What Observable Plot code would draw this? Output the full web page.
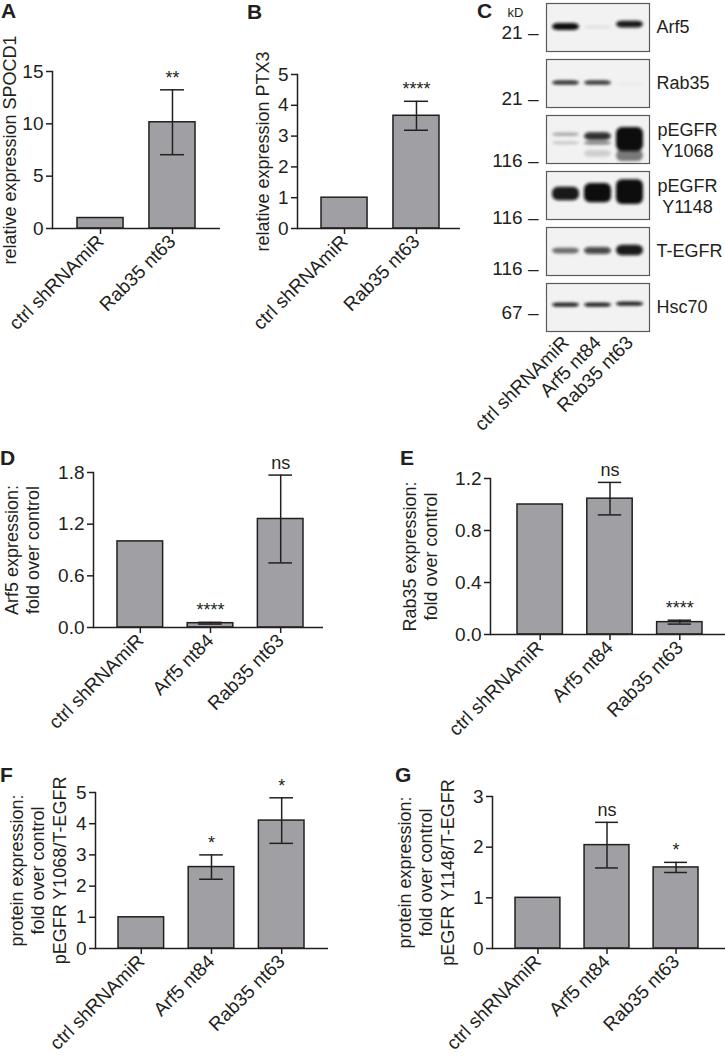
<!DOCTYPE html>
<html>
<head>
<meta charset="utf-8">
<script src="https://cdn.jsdelivr.net/npm/d3@7"></script>
<script src="https://cdn.jsdelivr.net/npm/@observablehq/plot@0.6"></script>
<style>
  body { margin: 0; background: #fff; }
  #fig { position: relative; width: 725px; height: 1056px; overflow: hidden;
         font-family: "Liberation Sans", Arial, Helvetica, sans-serif; color: #231f20; }
  .panel { position: absolute; }
  .letter { position: absolute; font-weight: bold; font-size: 21px; line-height: 1; }
</style>
</head>
<body>
<div id="fig"></div>
<script>
// ---------------- data ----------------
const catsA = ["ctrl shRNAmiR", "Rab35 nt63"];
const spocd1Mean = [1, 10.15];
const spocd1Sem = [0, 3.1];
const sigA = ["", "**"];

const ptx3Mean = [1, 3.66];
const ptx3Sem = [0, 0.47];
const sigB = ["", "****"];

const cats3 = ["ctrl shRNAmiR", "Arf5 nt84", "Rab35 nt63"];
const arf5Mean = [1, 0.05, 1.26];
const arf5Sem = [0, 0.01, 0.51];
const sigD = ["", "****", "ns"];

const rab35Mean = [1, 1.045, 0.095];
const rab35Sem = [0, 0.125, 0.015];
const sigE = ["", "ns", "****"];

const y1068Mean = [1, 2.61, 4.1];
const y1068Sem = [0, 0.39, 0.73];
const sigF = ["", "*", "*"];

const y1148Mean = [1, 2.04, 1.6];
const y1148Sem = [0, 0.45, 0.1];
const sigG = ["", "ns", "*"];

// western blot (panel C)
const lanes = ["ctrl shRNAmiR", "Arf5 nt84", "Rab35 nt63"];
const blots = ["Arf5", "Rab35", "pEGFR Y1068", "pEGFR Y1148", "T-EGFR", "Hsc70"];
const blotLabels = ["Arf5", "Rab35", "pEGFR\nY1068", "pEGFR\nY1148", "T-EGFR", "Hsc70"];
const markerKd = ["21", "21", "116", "116", "116", "67"];
const markerPos = [0.61, 0.82, 0.94, 0.96, 0.86, 0.62];
const bandBlot    = [0, 0, 0,  1, 1, 1,  2, 2, 2, 2, 2, 2, 2,  3, 3, 3,  4, 4, 4,  5, 5, 5];
const bandLane    = [0, 1, 2,  0, 1, 2,  0, 0, 1, 1, 1, 2, 2,  0, 1, 2,  0, 1, 2,  0, 1, 2];
const bandCentre  = [.49, .5, .44,  .49, .49, .52,  .40, .58, .44, .58, .80, .50, .84,  .47, .45, .43,  .49, .49, .48,  .45, .45, .43];
const bandThick   = [.15, .06, .14,  .08, .08, .05,  .07, .06, .16, .07, .14, .50, .24,  .28, .40, .52,  .12, .15, .22,  .08, .08, .08];
const bandDensity = [1, .08, .95,  .9, .88, .04,  .3, .2, .85, .5, .15, 1, .5,  .95, 1, 1,  .55, .75, .95,  1, 1, 1];

// ---------------- style ----------------
const FONT = '"Liberation Sans", Arial, Helvetica, sans-serif';
const INK = "#231f20";
const BAR = "#a0a0a4";
const TICK_FS = 19;
const LABEL_FS = 18;
const fig = document.getElementById("fig");

function place(node, left, top) {
  const d = document.createElement("div");
  d.className = "panel";
  d.style.left = left + "px";
  d.style.top = top + "px";
  d.appendChild(node);
  fig.appendChild(d);
}
function letter(t, left, top) {
  const d = document.createElement("div");
  d.className = "letter";
  d.textContent = t;
  d.style.left = left + "px";
  d.style.top = top + "px";
  fig.appendChild(d);
}

function barPanel(o) {
  const rows = o.cats.map((c, i) => ({cat: c, mean: o.mean[i], sem: o.sem[i], sig: o.sig[i]}));
  const withErr = rows.filter(d => d.sem > 0);
  const hi = d => d.mean + d.sem;
  const lo = d => d.mean - d.sem;
  const svg = Plot.plot({
    width: o.width, height: o.height,
    marginLeft: o.ml, marginRight: o.mr, marginTop: o.mt, marginBottom: o.mb,
    style: {fontFamily: FONT, fontSize: LABEL_FS + "px", color: INK, background: "transparent", overflow: "visible", maxWidth: "none"},
    x: {domain: o.cats, range: o.xRange, paddingInner: o.pad, paddingOuter: 0, round: false},
    y: {domain: o.yDomain},
    marks: [
      Plot.barY(rows, {x: "cat", y: "mean", fill: BAR, stroke: INK, strokeWidth: 1.5}),
      Plot.ruleX(withErr, {x: "cat", y1: lo, y2: hi, stroke: INK, strokeWidth: 1.5}),
      Plot.tickY(withErr, {x: "cat", y: hi, stroke: INK, strokeWidth: 1.5, insetLeft: 11, insetRight: 11}),
      Plot.tickY(withErr, {x: "cat", y: lo, stroke: INK, strokeWidth: 1.5, insetLeft: 11, insetRight: 11}),
      Plot.text(rows.filter(d => d.sig), {x: "cat", y: hi, text: "sig", lineAnchor: "bottom", dy: -6,
                  fill: INK, fontSize: LABEL_FS}),
      Plot.axisY({ticks: o.yTicks, tickFormat: o.yFormat, tickSize: 6, tickPadding: 3, label: null,
                  stroke: INK, strokeWidth: 1.5, fill: INK, fontSize: TICK_FS}),
      Plot.axisX({tickSize: 6, tickPadding: 4, tickRotate: -45, label: null,
                  stroke: INK, strokeWidth: 1.5, fill: INK, fontSize: TICK_FS}),
      Plot.frame({anchor: "left", stroke: INK, strokeWidth: 1.5}),
      Plot.ruleY([0], {stroke: INK, strokeWidth: 1.5}),
      Plot.text([o.yLabel], {text: d => d, frameAnchor: "left", dx: o.labelDx, rotate: -90,
                  textAnchor: "middle", lineAnchor: "middle", lineHeight: 1.2, fill: INK, fontSize: LABEL_FS})
    ]
  });
  place(svg, o.left, o.top);
}

const f1 = d3.format(".1f");
const f0 = d3.format("d");

// Panel A
barPanel({left: 0, top: 0, width: 230, height: 330, ml: 52, mr: 10, mt: 71, mb: 102,
  xRange: [77, 195], pad: 0.36, cats: catsA, mean: spocd1Mean, sem: spocd1Sem, sig: sigA,
  yDomain: [0, 15], yTicks: [0, 5, 10, 15], yFormat: f0, yLabel: "relative expression SPOCD1", labelDx: -43});
// Panel B
barPanel({left: 230, top: 0, width: 240, height: 330, ml: 67, mr: 10, mt: 74, mb: 102,
  xRange: [91, 209], pad: 0.36, cats: catsA, mean: ptx3Mean, sem: ptx3Sem, sig: sigB,
  yDomain: [0, 5], yTicks: [0, 1, 2, 3, 4, 5], yFormat: f0, yLabel: "relative expression PTX3", labelDx: -35});
// Panel D
barPanel({left: 0, top: 340, width: 340, height: 400, ml: 93, mr: 17, mt: 132, mb: 113,
  xRange: [117, 303], pad: 0.35, cats: cats3, mean: arf5Mean, sem: arf5Sem, sig: sigD,
  yDomain: [0, 1.8], yTicks: [0, 0.6, 1.2, 1.8], yFormat: f1,
  yLabel: "Arf5 expression:\nfold over control", labelDx: -72});
// Panel E
barPanel({left: 360, top: 340, width: 365, height: 400, ml: 130, mr: 0, mt: 138, mb: 106,
  xRange: [157, 342], pad: 0.35, cats: cats3, mean: rab35Mean, sem: rab35Sem, sig: sigE,
  yDomain: [0, 1.2], yTicks: [0, 0.4, 0.8, 1.2], yFormat: f1,
  yLabel: "Rab35 expression:\nfold over control", labelDx: -71});
// Panel F
barPanel({left: 0, top: 660, width: 340, height: 396, ml: 95, mr: 12, mt: 132, mb: 108,
  xRange: [118, 304], pad: 0.35, cats: cats3, mean: y1068Mean, sem: y1068Sem, sig: sigF,
  yDomain: [0, 5], yTicks: [0, 1, 2, 3, 4, 5], yFormat: f0,
  yLabel: "protein expression:\nfold over control\npEGFR Y1068/T-EGFR", labelDx: -58});
// Panel G
barPanel({left: 360, top: 660, width: 365, height: 396, ml: 132, mr: 0, mt: 136, mb: 108,
  xRange: [155, 338], pad: 0.35, cats: cats3, mean: y1148Mean, sem: y1148Sem, sig: sigG,
  yDomain: [0, 3], yTicks: [0, 1, 2, 3], yFormat: f0,
  yLabel: "protein expression:\nfold over control\npEGFR Y1148/T-EGFR", labelDx: -67});

// Panel C: western blot
const bands = bandBlot.map((b, i) => ({
  blot: blots[b], lane: lanes[bandLane[i]], c: bandCentre[i], t: bandThick[i], k: bandDensity[i]
}));
const markers = blots.map((b, i) => ({blot: b, kd: markerKd[i], pos: markerPos[i]}));
const labels = blots.map((b, i) => ({blot: b, label: blotLabels[i]}));
const svgC = Plot.plot({
  width: 285, height: 470, marginLeft: 106, marginRight: 76, marginTop: 1, marginBottom: 470 - 335,
  style: {fontFamily: FONT, fontSize: LABEL_FS + "px", color: INK, background: "transparent", overflow: "visible", maxWidth: "none"},
  x: {domain: lanes, paddingInner: 0.04, paddingOuter: 0.12},
  y: {domain: [0, 1], reverse: true, axis: null},
  fy: {domain: blots, paddingInner: 0.14, paddingOuter: 0, axis: null},
  marks: [
    Plot.frame({fill: "#f2f2f2", stroke: "none"}),
    Plot.barY(bands, {fy: "blot", x: "lane", y1: d => d.c - d.t / 2, y2: d => d.c + d.t / 2,
      fill: "#0b0b0b", fillOpacity: "k", rx: 6, insetLeft: 2, insetRight: 2}),
    Plot.frame({stroke: "#5a5a5a", strokeWidth: 1.2}),
    Plot.text(markers, {fy: "blot", y: "pos", text: d => d.kd + " \u2013", frameAnchor: "left",
      textAnchor: "end", dx: -8, fill: INK, fontSize: TICK_FS}),
    Plot.text([{blot: "Arf5"}], {fy: "blot", text: () => "kD", frameAnchor: "top-left", dx: -39, dy: 4,
      lineAnchor: "top", textAnchor: "start", fontSize: 13, fill: INK}),
    Plot.text(labels.filter(d => !d.label.includes("\n")), {fy: "blot", text: "label", frameAnchor: "right",
      textAnchor: "start", dx: 7, fill: INK, fontSize: LABEL_FS}),
    Plot.text(labels.filter(d => d.label.includes("\n")), {fy: "blot", text: "label", frameAnchor: "right",
      textAnchor: "middle", dx: 38, lineHeight: 1.2, fill: INK, fontSize: LABEL_FS}),
    Plot.axisX({tickSize: 0, tickPadding: 8, tickRotate: -45, label: null, fill: INK, fontSize: TICK_FS})
  ]
});
const ns = "http://www.w3.org/2000/svg";
const defs = document.createElementNS(ns, "defs");
defs.innerHTML = '<filter id="blotBlur" x="-40%" y="-150%" width="180%" height="400%"><feGaussianBlur stdDeviation="1.6"/></filter>';
svgC.insertBefore(defs, svgC.firstChild);
svgC.querySelectorAll('g[aria-label="bar"]').forEach(g => g.setAttribute("filter", "url(#blotBlur)"));
place(svgC, 440, -1);

// panel letters
letter("A", 1, 0);
letter("B", 247, 1);
letter("C", 477, 0);
letter("D", 0, 447);
letter("E", 400, 447);
letter("F", 0, 764);
letter("G", 395, 764);
</script>
</body>
</html>
